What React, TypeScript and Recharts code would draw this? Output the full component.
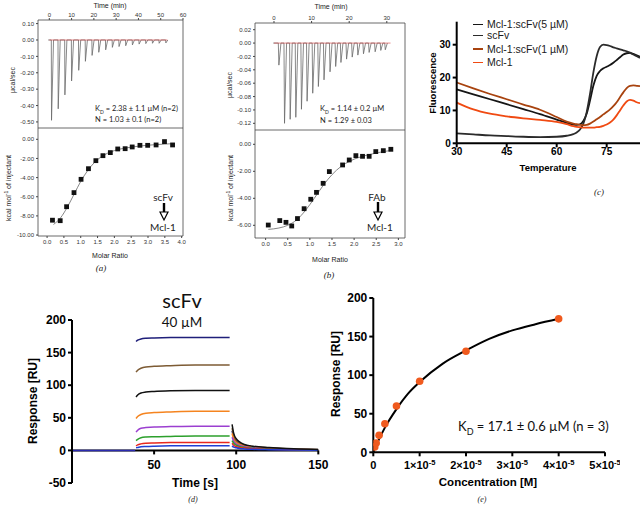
import React from 'react';
import { LineChart, ComposedChart, Line, Scatter, XAxis, YAxis, ReferenceArea, ReferenceLine } from 'recharts';

const SANS = '"Liberation Sans", Arial, sans-serif';
const SOFT = 'Lato, "Open Sans", sans-serif';
const SERIF = '"Liberation Serif", serif';

// ---- (a) ITC scFv -> Mcl-1
const itcATimes = [1.0, 4.0, 7.0, 10.0, 13.2, 16.2, 19.2, 22.2, 25.3, 28.3, 31.3, 34.3, 37.3, 40.3, 43.3, 46.3, 49.3, 52.3];
const itcAPeaks = [-0.49, -0.42, -0.335, -0.25, -0.185, -0.13, -0.094, -0.075, -0.06, -0.045, -0.04, -0.035, -0.03, -0.025, -0.022, -0.02, -0.02, -0.018];
const itcARatio = [0.16, 0.39, 0.58, 0.8, 1.01, 1.23, 1.45, 1.66, 1.88, 2.1, 2.32, 2.53, 2.76, 2.99, 3.24, 3.49, 3.73];
const itcAHeat = [-8.45, -8.5, -7.04, -5.57, -4.18, -3.07, -2.23, -1.71, -1.39, -1.01, -0.98, -0.8, -0.63, -0.63, -0.59, -0.24, -0.59];
const itcAFitRatio = [0.19, 0.4, 0.6, 0.8, 1.0, 1.2, 1.4, 1.6, 1.8, 2.0, 2.5, 3.0, 3.5, 3.73];
const itcAFitHeat = [-8.9, -8.2, -7.1, -5.75, -4.4, -3.3, -2.45, -1.85, -1.45, -1.18, -0.82, -0.62, -0.5, -0.46];

// ---- (b) ITC FAb -> Mcl-1
const itcBTimes = [1.3, 2.8, 4.3, 5.8, 7.3, 8.8, 10.3, 11.8, 13.3, 14.9, 16.4, 17.8, 19.3, 20.8, 22.3, 23.8, 25.3, 26.9, 28.4, 29.6];
const itcBPeaks = [-0.033, -0.12, -0.114, -0.111, -0.099, -0.087, -0.075, -0.065, -0.055, -0.043, -0.035, -0.029, -0.024, -0.021, -0.018, -0.016, -0.014, -0.013, -0.011, -0.01];
const itcBRatio = [0.06, 0.32, 0.46, 0.59, 0.72, 0.87, 1.02, 1.15, 1.3, 1.44, 1.74, 1.89, 2.04, 2.19, 2.34, 2.49, 2.66, 2.83];
const itcBHeat = [-5.98, -5.65, -5.78, -6.05, -5.5, -4.77, -4.07, -3.56, -2.89, -2.02, -1.53, -1.16, -0.84, -0.89, -0.89, -0.54, -0.47, -0.37];
const itcBFitRatio = [0.06, 0.3, 0.5, 0.7, 0.9, 1.1, 1.3, 1.5, 1.7, 1.9, 2.1, 2.4, 2.7, 2.85];
const itcBFitHeat = [-6.3, -6.2, -6.0, -5.6, -4.9, -4.0, -3.05, -2.25, -1.65, -1.25, -0.98, -0.72, -0.52, -0.45];

// ---- (c) thermal melt
const meltTemp = [30, 35, 40, 45, 50, 55, 60, 63, 65, 66, 67, 68, 69, 70, 71, 72, 73, 74, 75, 76, 77, 78, 79, 80, 81, 82, 83, 84, 85];
const meltComplex5 = [16.4, 14.9, 13.4, 11.9, 10.4, 8.9, 7.2, 6.2, 5.7, 5.6, 5.8, 6.8, 9.0, 13.0, 17.5, 20.5, 22.0, 22.8, 23.3, 23.8, 24.5, 25.3, 26.2, 27.0, 27.4, 27.5, 27.2, 26.8, 26.3];
const meltScFv = [3.0, 2.7, 2.4, 2.2, 2.0, 1.9, 2.0, 2.3, 2.8, 3.3, 4.2, 6.0, 9.5, 15.0, 21.5, 26.5, 29.3, 30.0, 29.9, 29.6, 29.2, 28.9, 28.6, 28.3, 28.0, 27.6, 27.0, 26.5, 26.0];
const meltComplex1 = [18.5, 16.7, 15.0, 13.4, 11.8, 10.2, 8.0, 6.6, 6.0, 5.8, 5.6, 5.5, 5.6, 6.0, 6.6, 7.3, 8.0, 8.8, 9.5, 10.3, 11.3, 12.5, 14.0, 15.5, 16.8, 17.5, 17.6, 17.5, 17.4];
const meltMcl1 = [12.4, 10.3, 9.0, 8.2, 7.6, 7.1, 6.5, 5.8, 5.2, 5.0, 4.9, 4.8, 4.8, 4.8, 4.8, 4.9, 5.0, 5.3, 5.7, 6.3, 7.2, 8.5, 10.0, 11.5, 12.7, 13.2, 13.0, 12.5, 12.2];
const meltSeries = [
  { key: 'c5', name: 'Mcl-1:scFv(5 µM)', color: '#161616', values: meltComplex5 },
  { key: 'sc', name: 'scFv', color: '#2b2b2b', values: meltScFv },
  { key: 'c1', name: 'Mcl-1:scFv(1 µM)', color: '#a8430f', values: meltComplex1 },
  { key: 'mc', name: 'Mcl-1', color: '#f04a12', values: meltMcl1 },
];

// ---- (d) SPR sensorgrams
const sprAssocTime = [39, 40, 42, 45, 50, 60, 75, 96];
const sprDissocTime = [97.5, 98.5, 100, 102, 105, 110, 120, 135, 150];
const sprSeries = [
  { color: '#1f1f7a', assoc: [167, 169, 171, 172, 172.5, 173, 173, 173], dissoc: [30, 20, 14, 10, 7.5, 5.5, 3.5, 2, 1] },
  { color: '#7d5b34', assoc: [120, 123, 126, 128, 129, 130, 131, 131], dissoc: [34, 22, 15, 11, 8, 6, 4, 2.2, 1.2] },
  { color: '#f5841f', assoc: [49, 52, 55, 57, 58, 59, 60, 60], dissoc: [26, 17, 12, 9, 6.5, 5, 3.2, 1.8, 1] },
  { color: '#9b3fd0', assoc: [28, 31, 34, 35, 36, 36.5, 37, 37], dissoc: [20, 14, 10, 7.5, 5.5, 4, 2.8, 1.5, 0.8] },
  { color: '#2ca02c', assoc: [15, 17, 19.5, 20.5, 21, 21.5, 22, 22], dissoc: [15, 11, 8, 6, 4.5, 3.2, 2.2, 1.2, 0.6] },
  { color: '#e8281e', assoc: [7, 8.5, 10, 11, 11.5, 12, 12, 12], dissoc: [11, 8, 6, 4.5, 3.5, 2.5, 1.6, 0.9, 0.4] },
  { color: '#1f3fd6', assoc: [4, 4.5, 5.5, 6, 6.5, 7, 7, 7], dissoc: [7, 5, 4, 3, 2.3, 1.7, 1.1, 0.6, 0.3] },
  { color: '#111111', assoc: [82, 85, 88, 89.5, 90.5, 91.5, 92, 92], dissoc: [40, 26, 18, 13, 9, 6.5, 4.5, 2.5, 1.5] },
];
const sprBaselineTime = [0, 38.5];

// ---- (e) steady-state affinity
const affConc = [3.125e-7, 6.25e-7, 1.25e-6, 2.5e-6, 5e-6, 1e-5, 2e-5, 4e-5];
const affResp = [7, 12, 22, 37, 60, 92, 131, 173];
const affFitConc = [0, 1.25e-6, 2.5e-6, 5e-6, 7.5e-6, 1e-5, 1.5e-5, 2e-5, 2.5e-5, 3e-5, 3.5e-5, 4e-5];
const affFitResp = [0, 17, 32, 56, 76, 91, 115, 132, 147, 158, 166, 173];

const pts = (xs: number[], ys: number[]) => xs.map((x, i) => ({ x, y: ys[i] }));
const spikes = (times: number[], peaks: number[], lead: number, tail: number) => [
  { x: times[0] - 1.5, y: 0 },
  ...times.flatMap((t, i) => [{ x: t - lead, y: 0 }, { x: t, y: peaks[i] }, { x: t + tail, y: 0 }]),
];

const itcTick = { fontSize: 6, fontFamily: SANS, fill: '#333' };
const boldTick = { fontSize: 12, fontFamily: SANS, fontWeight: 700, fill: '#000' };
const blackAxis = { stroke: '#000', strokeWidth: 2 };
const f2 = (v: number) => v.toFixed(2);
const f1 = (v: number) => v.toFixed(1);

const Txt = ({ x, y, children, size = 7, weight = 400, family = SANS, rotate = 0, italic = false, left = false, color = '#222' }: any) => (
  <div style={{
    position: 'absolute', left: x, top: y, whiteSpace: 'nowrap', lineHeight: 1,
    transform: `translate(${left ? '0' : '-50%'},-50%)${rotate ? ` rotate(${rotate}deg)` : ''}`,
    fontSize: size, fontWeight: weight, fontFamily: family, fontStyle: italic ? 'italic' : 'normal', color,
  }}>{children}</div>
);

const Arrow = ({ x, y, shaft }: { x: number; y: number; shaft: number }) => (
  <svg style={{ position: 'absolute', left: x - 5, top: y }} width={10} height={shaft + 10}>
    <rect x={3.8} y={0} width={2.4} height={shaft} fill="#000" />
    <polygon points={`1,${shaft} 9,${shaft} 5,${shaft + 8}`} fill="#fff" stroke="#000" strokeWidth={1.2} />
  </svg>
);

const Thermogram = ({ left, top, width, height, margin, yWidth, xDomain, yDomain, xTicks, yTicks, trace, baseEnd }: any) => (
  <div style={{ position: 'absolute', left, top }}>
    <LineChart width={width} height={height} margin={margin}>
      <XAxis type="number" dataKey="x" orientation="top" height={20} domain={xDomain} allowDataOverflow ticks={xTicks} interval={0}
        tickSize={2} tickMargin={1} tick={itcTick} axisLine={false} tickLine={{ stroke: '#444' }} />
      <YAxis type="number" dataKey="y" width={yWidth} domain={yDomain} allowDataOverflow ticks={yTicks} interval={0}
        tickFormatter={f2} tickSize={2} tickMargin={2} tick={itcTick} axisLine={false} tickLine={{ stroke: '#444' }} />
      <ReferenceArea x1={xDomain[0]} x2={xDomain[1]} y1={yDomain[0]} y2={yDomain[1]} fill="none" stroke="#444" strokeWidth={0.8} />
      <Line data={trace} dataKey="y" type="linear" stroke="#6a6a6a" strokeWidth={0.8} dot={false} isAnimationActive={false} />
      <Line data={[{ x: 0, y: 0 }, { x: baseEnd, y: 0 }]} dataKey="y" stroke="#d84040" strokeWidth={0.6} dot={false} isAnimationActive={false} />
    </LineChart>
  </div>
);

const Isotherm = ({ left, top, width, height, margin, yWidth, xDomain, yDomain, xTicks, yTicks, points, fit }: any) => (
  <div style={{ position: 'absolute', left, top }}>
    <ComposedChart width={width} height={height} margin={margin}>
      <XAxis type="number" dataKey="x" height={14} domain={xDomain} allowDataOverflow ticks={xTicks} interval={0}
        tickFormatter={f1} tickSize={2} tickMargin={2} tick={itcTick} axisLine={false} tickLine={{ stroke: '#444' }} />
      <YAxis type="number" dataKey="y" width={yWidth} domain={yDomain} allowDataOverflow ticks={yTicks} interval={0}
        tickFormatter={f2} tickSize={2} tickMargin={2} tick={itcTick} axisLine={false} tickLine={{ stroke: '#444' }} />
      <ReferenceArea x1={xDomain[0]} x2={xDomain[1]} y1={yDomain[0]} y2={yDomain[1]} fill="none" stroke="#444" strokeWidth={0.8} />
      <Line data={fit} dataKey="y" type="monotone" stroke="#777" strokeWidth={0.9} dot={false} isAnimationActive={false} />
      <Scatter data={points} dataKey="y" isAnimationActive={false}
        shape={(p: any) => <rect x={p.cx - 2.4} y={p.cy - 2.4} width={4.8} height={4.8} fill="#111" />} />
    </ComposedChart>
  </div>
);

// (d) x axis is drawn through y = 0, so ticks are shifted up to that line
const sprDomain = [-50, 200];
const sprTop = 10;
const sprPlotH = 163;
const sprZeroY = sprTop + sprPlotH * (sprDomain[1] / (sprDomain[1] - sprDomain[0]));
const SprXTick = ({ x, payload }: any) => (
  <g>
    <line x1={x} x2={x} y1={sprZeroY} y2={sprZeroY + 4} stroke="#000" strokeWidth={2} />
    <text x={x} y={sprZeroY + 19} textAnchor="middle" fontSize={12} fontWeight={700} fontFamily={SANS} fill="#000">{payload.value}</text>
  </g>
);

const ConcTick = ({ x, y, payload }: any) => {
  const n = Math.round(payload.value / 1e-5);
  return (
    <text x={x} y={y + 11} textAnchor="middle" fontSize={11} fontWeight={700} fontFamily={SANS} fill="#000">
      {n === 0 ? '0' : <>{`${n}×10`}<tspan dy={-4} fontSize={7.5}>-5</tspan></>}
    </text>
  );
};

export default function App() {
  const meltData = meltTemp.map((t, i) => {
    const row: any = { t };
    meltSeries.forEach((s) => { row[s.key] = s.values[i]; });
    return row;
  });

  return (
    <div style={{ position: 'absolute', left: 0, top: 0, width: 640, height: 506, background: '#fff', overflow: 'hidden' }}>
      {/* (a) */}
      <Thermogram left={0} top={0} width={195} height={128} margin={{ top: 0, right: 12, bottom: 0, left: 8 }} yWidth={30}
        xDomain={[-5.07, 60]} yDomain={[-0.537, 0.122]} xTicks={[0, 10, 20, 30, 40, 50, 60]}
        yTicks={[0.1, 0, -0.1, -0.2, -0.3, -0.4, -0.5]} trace={spikes(itcATimes, itcAPeaks, 0.1, 0.9)} baseEnd={53} />
      <Isotherm left={0} top={128} width={195} height={130} margin={{ top: 0, right: 12, bottom: 8, left: 8 }} yWidth={30}
        xDomain={[-0.27, 4.04]} yDomain={[-10.1, 1.18]} xTicks={[0, 0.5, 1, 1.5, 2, 2.5, 3, 3.5, 4]}
        yTicks={[0, -2, -4, -6, -8, -10]} points={pts(itcARatio, itcAHeat)} fit={pts(itcAFitRatio, itcAFitHeat)} />
      <Txt x={110} y={5}>Time (min)</Txt>
      <Txt x={12} y={80} rotate={-90}>µcal/sec</Txt>
      <Txt x={8} y={188} rotate={-90}>kcal mol<sup style={{ fontSize: 5 }}>-1</sup> of injectant</Txt>
      <Txt x={110} y={255}>Molar Ratio</Txt>
      <Txt x={95} y={110} left family={SOFT} size={7.5}>K<sub style={{ fontSize: 5 }}>D</sub> = 2.38 ± 1.1 µM (n=2)</Txt>
      <Txt x={95} y={120} left family={SOFT} size={7.5}>N = 1.03 ± 0.1 (n=2)</Txt>
      <Txt x={163} y={197} family={SOFT} size={10}>scFv</Txt>
      <Arrow x={164} y={203} shaft={9} />
      <Txt x={163} y={227} family={SOFT} size={10}>Mcl-1</Txt>
      <Txt x={101} y={268} family={SERIF} italic size={9}>(a)</Txt>

      {/* (b) */}
      <Thermogram left={215} top={0} width={200} height={130} margin={{ top: 3, right: 10, bottom: 0, left: 12 }} yWidth={28}
        xDomain={[-5.05, 34.84]} yDomain={[-0.13, 0.03]} xTicks={[0, 10, 20, 30]}
        yTicks={[0.02, 0, -0.02, -0.04, -0.06, -0.08, -0.1, -0.12]} trace={spikes(itcBTimes, itcBPeaks, 0.15, 0.55)} baseEnd={31} />
      <Isotherm left={215} top={130} width={200} height={125} margin={{ top: 0, right: 10, bottom: 3, left: 12 }} yWidth={28}
        xDomain={[-0.24, 3.15]} yDomain={[-6.94, 1.06]} xTicks={[0, 0.5, 1, 1.5, 2, 2.5, 3]}
        yTicks={[0, -2, -4, -6]} points={pts(itcBRatio, itcBHeat)} fit={pts(itcBFitRatio, itcBFitHeat)} />
      <Txt x={331} y={6}>Time (min)</Txt>
      <Txt x={229} y={85} rotate={-90}>µcal/sec</Txt>
      <Txt x={230} y={188} rotate={-90}>kcal mol<sup style={{ fontSize: 5 }}>-1</sup> of injectant</Txt>
      <Txt x={330} y={259}>Molar Ratio</Txt>
      <Txt x={320} y={110} left family={SOFT} size={7.5}>K<sub style={{ fontSize: 5 }}>D</sub> = 1.14 ± 0.2 µM</Txt>
      <Txt x={320} y={121} left family={SOFT} size={7.5}>N = 1.29 ± 0.03</Txt>
      <Txt x={377} y={197} family={SOFT} size={10}>FAb</Txt>
      <Arrow x={378} y={202} shaft={10} />
      <Txt x={380} y={227} family={SOFT} size={10}>Mcl-1</Txt>
      <Txt x={329} y={275} family={SERIF} italic size={9}>(b)</Txt>

      {/* (c) */}
      <div style={{ position: 'absolute', left: 420, top: 0 }}>
        <LineChart width={220} height={175} data={meltData} margin={{ top: 21.7, right: 0, bottom: 11.7, left: 6.7 }}>
          <XAxis type="number" dataKey="t" height={20} domain={[30, 85]} allowDataOverflow ticks={[30, 45, 60, 75]} interval={0}
            tickSize={4} tickMargin={1} tick={{ ...boldTick, fontSize: 10 }} axisLine={blackAxis} tickLine={blackAxis} />
          <YAxis type="number" width={30} domain={[0, 37]} allowDataOverflow ticks={[0, 10, 20, 30]} interval={0}
            tickSize={4} tickMargin={2} tick={{ ...boldTick, fontSize: 10 }} axisLine={blackAxis} tickLine={blackAxis} />
          {meltSeries.map((s) => (
            <Line key={s.key} dataKey={s.key} name={s.name} type="monotone" stroke={s.color} strokeWidth={1.8} dot={false} isAnimationActive={false} />
          ))}
        </LineChart>
      </div>
      {meltSeries.map((s, i) => (
        <React.Fragment key={s.key}>
          <div style={{ position: 'absolute', left: 473, top: [23.5, 34.5, 48, 61.5][i], width: 10, height: 1.6, background: s.color }} />
          <Txt x={487} y={[24, 35, 48.5, 62][i]} left size={10.5} color="#1a1a1a">{s.name}</Txt>
        </React.Fragment>
      ))}
      <Txt x={433} y={83} rotate={-90} weight={700} size={9.5} color="#000">Fluorescence</Txt>
      <Txt x={548} y={168} weight={700} size={9.5} color="#000">Temperature</Txt>
      <Txt x={599} y={192} family={SERIF} italic size={9}>(c)</Txt>

      {/* (d) */}
      <div style={{ position: 'absolute', left: 20, top: 310 }}>
        <LineChart width={310} height={195} margin={{ top: sprTop, right: 11.7, bottom: 2, left: 16 }}>
          <XAxis type="number" dataKey="x" height={20} domain={[0, 150]} allowDataOverflow ticks={[50, 100, 150]} interval={0}
            axisLine={false} tickLine={false} tick={<SprXTick />} />
          <YAxis type="number" dataKey="y" width={36} domain={sprDomain} allowDataOverflow ticks={[-50, 0, 50, 100, 150, 200]} interval={0}
            tickSize={4} tickMargin={2} tick={boldTick} axisLine={blackAxis} tickLine={blackAxis} />
          <ReferenceLine y={0} stroke="#000" strokeWidth={2} />
          <Line data={pts(sprBaselineTime, [0, 0])} dataKey="y" stroke="#2a2ab0" strokeWidth={1.5} dot={false} isAnimationActive={false} />
          {sprSeries.map((s, i) => (
            <Line key={i} dataKey="y" type="monotone" stroke={s.color} strokeWidth={1.5} dot={false} isAnimationActive={false}
              data={[...pts(sprAssocTime, s.assoc), { x: 97, y: null }, ...pts(sprDissocTime, s.dissoc)]} />
          ))}
        </LineChart>
      </div>
      <Txt x={182} y={300} family={SOFT} size={20} color="#111">scFv</Txt>
      <Txt x={182} y={323} family={SOFT} size={13.5} color="#111">40 µM</Txt>
      <Txt x={33} y={401} rotate={-90} weight={700} size={12} color="#000">Response [RU]</Txt>
      <Txt x={195} y={483} weight={700} size={12} color="#000">Time [s]</Txt>
      <Txt x={193} y={500} family={SERIF} italic size={8}>(d)</Txt>

      {/* (e) */}
      <div style={{ position: 'absolute', left: 320, top: 290 }}>
        <ComposedChart width={300} height={210} margin={{ top: 8, right: 15, bottom: 25.7, left: 17.3 }}>
          <XAxis type="number" dataKey="x" height={22} domain={[0, 5e-5]} allowDataOverflow ticks={[0, 1e-5, 2e-5, 3e-5, 4e-5, 5e-5]} interval={0}
            tickSize={4} tickMargin={2} tick={<ConcTick />} axisLine={blackAxis} tickLine={blackAxis} />
          <YAxis type="number" dataKey="y" width={36} domain={[0, 200]} allowDataOverflow ticks={[0, 50, 100, 150, 200]} interval={0}
            tickSize={4} tickMargin={2} tick={boldTick} axisLine={blackAxis} tickLine={blackAxis} />
          <Line data={pts(affFitConc, affFitResp)} dataKey="y" type="monotone" stroke="#000" strokeWidth={2} dot={false} isAnimationActive={false} />
          <Scatter data={pts(affConc, affResp)} dataKey="y" isAnimationActive={false}
            shape={(p: any) => <circle cx={p.cx} cy={p.cy} r={3.8} fill="#f05a1e" />} />
        </ComposedChart>
      </div>
      <Txt x={336} y={374} rotate={-90} weight={700} size={12} color="#000">Response [RU]</Txt>
      <Txt x={488} y={483} weight={700} size={11.5} color="#000">Concentration [M]</Txt>
      <Txt x={458} y={428} left family={SOFT} size={13} color="#111">K<sub style={{ fontSize: 9 }}>D</sub> = 17.1 ± 0.6 µM (n = 3)</Txt>
      <Txt x={482} y={500} family={SERIF} italic size={8}>(e)</Txt>
    </div>
  );
}
